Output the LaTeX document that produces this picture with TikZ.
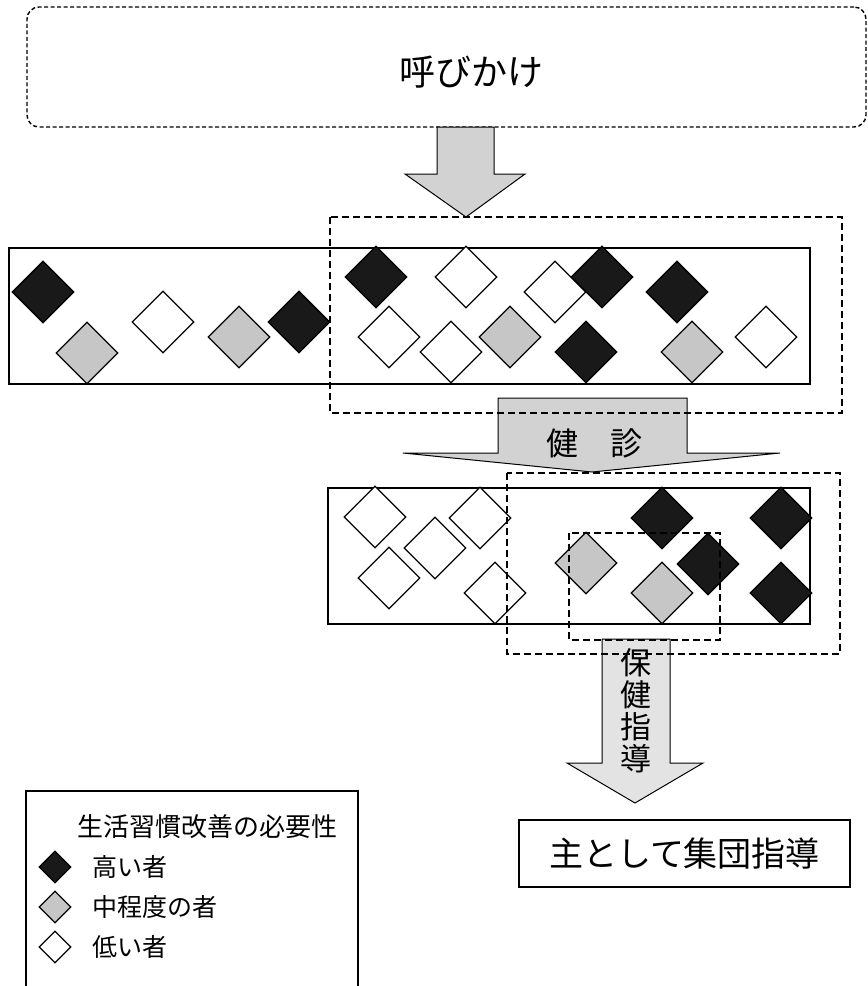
\documentclass[tikz,border=0pt]{standalone}
\usepackage{fontspec}
\newfontfamily\jp{Noto Sans CJK JP}
\usetikzlibrary{shapes.geometric}
\begin{document}
\begin{tikzpicture}[x=1pt, y=-1pt, font=\jp,
    dm/.style={diamond, draw, line width=1.3pt, inner sep=0pt, minimum width=62pt, minimum height=62pt},
    hi/.style={dm, fill=black!90},
    mid/.style={dm, fill=gray!45},
    lo/.style={dm, fill=white},
    grp/.style={line width=1.4pt, dash pattern=on 7pt off 4pt},
    fat/.style={draw, line width=1pt, fill=gray!35}]
    \useasboundingbox (0, 0) rectangle (868, 986);
    % call box
    \node (callbox) [draw, line width=1.4pt, dash pattern=on 4pt off 2.5pt, rounded corners=12pt, minimum width=839pt, minimum height=120pt] at (446.5, 67) {};
    \node (calltxt) at (471, 72) {\fontsize{36}{40}\selectfont 呼びかけ};
    \fill [fat] (437, 127) -- (437, 174) -- (405, 174) -- (466, 217) -- (525, 174) -- (494, 174) -- (494, 127) -- cycle;
    % everybody
    \draw [line width=1.5pt] (9, 248) rectangle (810, 384);
    \foreach \x/\y/\s [count=\i] in {43/292/hi, 87/353/mid, 163/322/lo, 239/337/mid, 299/322/hi,
        376/277/hi, 389/337/lo, 451/352/lo, 466/277/lo, 510/337/mid, 555/292/lo, 602/277/hi,
        586/352/hi, 677/292/hi, 692/352/mid, 766/337/lo}
        \node [\s] (p\i) at (\x, \y) {};
    % health check
    \fill [fat] (498, 398) -- (498, 453) -- (403, 453) -- (592, 472) -- (780, 453) -- (687, 453) -- (687, 398) -- cycle;
    \node (checktxt) at (594, 443) {\fontsize{32}{36}\selectfont 健　診};
    \draw [grp] (330, 217) rectangle (842, 413);
    % examined
    \draw [line width=1.5pt] (328, 488) rectangle (810, 624);
    \foreach \x/\y/\s [count=\i] in {375/517/lo, 480/518/lo, 435/548/lo, 389/578/lo, 495/593/lo,
        586/563/mid, 662/518/hi, 708/564/hi, 662/593/mid, 781/518/hi, 781/593/hi}
        \node [\s] (q\i) at (\x, \y) {};
    % guidance
    \fill [fat, fill=gray!22] (602, 639) -- (602, 763) -- (567, 763) -- (635, 803) -- (703, 763) -- (670, 763) -- (670, 639) -- cycle;
    \node (guidetxt) [align=center, font=\jp\fontsize{31}{32}\selectfont] at (636, 711) {保\\健\\指\\導};
    \draw [grp] (507, 473) rectangle (840, 654);
    \draw [grp] (569, 533) rectangle (720, 640);
    \node (group) [draw, line width=1.3pt, minimum width=331pt, minimum height=67pt] at (684.5, 853.5) {\fontsize{34}{38}\selectfont 主として集団指導};
    % legend
    \draw [line width=1.3pt] (26, 986) -- (26, 791) -- (358, 791) -- (358, 986);
    \node (legtitle) [anchor=west] at (74, 827) {\fontsize{26}{30}\selectfont 生活習慣改善の必要性};
    \node (leghi) [hi, minimum width=32pt, minimum height=32pt] at (55, 867) {};
    \node (legmid) [mid, minimum width=32pt, minimum height=32pt] at (55, 907) {};
    \node (leglo) [lo, minimum width=32pt, minimum height=32pt] at (55, 947) {};
    \node [anchor=west] at (89, 867) {\fontsize{25}{30}\selectfont 高い者};
    \node [anchor=west] at (89, 907) {\fontsize{25}{30}\selectfont 中程度の者};
    \node [anchor=west] at (89, 947) {\fontsize{25}{30}\selectfont 低い者};
\end{tikzpicture}
\end{document}
